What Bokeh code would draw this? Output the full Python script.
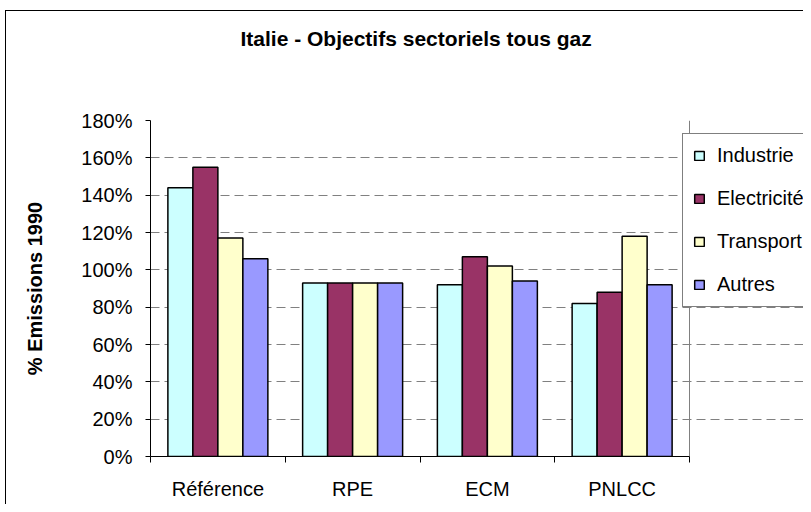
from bokeh.plotting import figure
from bokeh.models import Range1d, FixedTicker, Legend, LegendItem, ColumnDataSource, Grid, Title
from bokeh.embed import file_html
from bokeh.resources import INLINE

categories = ["Référence", "RPE", "ECM", "PNLCC"]
series = ["Industrie", "Electricité", "Transport", "Autres"]
industrie = [144, 93, 92, 82]
electricite = [155, 93, 107, 88]
transport = [117, 93, 102, 118]
autres = [106, 93, 94, 92]
values = [industrie, electricite, transport, autres]
y_ticks = [0, 20, 40, 60, 80, 100, 120, 140, 160, 180]
colors = ["#CCFFFF", "#993366", "#FFFFCC", "#9999FF"]

FONT = "Liberation Sans"
W, H = 803, 504
LEFT, TOP, BOTTOM = 150, 120, 48
PLOT_W = 539  # width of the category area in px
n = len(categories)
x_end = n * (W - LEFT) / PLOT_W

p = figure(width=W, height=H, output_backend="svg", toolbar_location=None,
           x_range=Range1d(0, x_end), y_range=Range1d(0, 180),
           min_border_left=LEFT, min_border_right=0, min_border_top=TOP,
           min_border_bottom=BOTTOM)
p.title_location = None
p.background_fill_color = "white"
p.border_fill_alpha = 0
p.outline_line_color = None
p.styles = {"background": "linear-gradient(#000,#000) 5px 10px / 1px calc(100% - 10px) no-repeat, "
                          "linear-gradient(#000,#000) 5px 10px / calc(100% - 5px) 1px no-repeat, #fff"}

bw = 0.1855
items = []
for k, (name, vals, col) in enumerate(zip(series, values, colors)):
    xs = [i + 0.5 + (k - 1.5) * bw for i in range(n)]
    src = ColumnDataSource(dict(x=xs, top=vals))
    r = p.vbar(x="x", top="top", width=bw, bottom=0, source=src,
               fill_color=col, line_color="black", line_width=1.5)
    items.append(LegendItem(label=name, renderers=[r]))

# titles (spacer first, nearest to the frame)
p.add_layout(Title(text=" ", text_font_size="1px", standoff=63), "above")
p.add_layout(Title(text="Italie - Objectifs sectoriels tous gaz", align="left", offset=90,
                   text_font=FONT, text_font_size="21px", text_font_style="bold",
                   text_color="black", standoff=10), "above")

# y axis
p.yaxis.ticker = FixedTicker(ticks=y_ticks)
p.yaxis.major_label_overrides = {t: f"{t}%" for t in y_ticks}
p.yaxis.major_label_text_font = FONT
p.yaxis.major_label_text_font_size = "20px"
p.yaxis.major_label_text_color = "black"
p.yaxis.major_tick_in = 0
p.yaxis.major_tick_out = 5
p.yaxis.minor_tick_line_color = None
p.yaxis.major_label_standoff = 13
p.yaxis.axis_line_color = "black"
p.yaxis.major_tick_line_color = "black"
p.yaxis.axis_label = "% Emissions 1990"
p.yaxis.axis_label_text_font = FONT
p.yaxis.axis_label_text_font_size = "20px"
p.yaxis.axis_label_text_font_style = "bold"
p.yaxis.axis_label_text_color = "black"
p.yaxis.axis_label_standoff = 32

# x axis
p.xaxis.ticker = FixedTicker(ticks=[i + 0.5 for i in range(n)],
                             minor_ticks=list(range(n + 1)))
p.xaxis.major_label_overrides = {i + 0.5: c for i, c in enumerate(categories)}
p.xaxis.major_label_text_font = FONT
p.xaxis.major_label_text_font_size = "20px"
p.xaxis.major_label_text_color = "black"
p.xaxis.major_tick_line_color = None
p.xaxis.major_tick_in = 0
p.xaxis.major_tick_out = 0
p.xaxis.minor_tick_in = 0
p.xaxis.minor_tick_out = 6
p.xaxis.minor_tick_line_color = "black"
p.xaxis.major_label_standoff = 15
p.xaxis.axis_line_color = "black"
p.xaxis.bounds = (0, n)

# grid
p.xgrid.grid_line_color = None
p.ygrid.ticker = FixedTicker(ticks=y_ticks[1:-1])
p.ygrid.grid_line_color = "#808080"
p.ygrid.grid_line_dash = "9 5"
p.ygrid.grid_line_width = 1
p.ygrid.bounds = (0, n)
# plot-area border (top and right), in gray
p.add_layout(Grid(dimension=1, ticker=FixedTicker(ticks=[y_ticks[-1]]), bounds=(0, n),
                  grid_line_color="#808080", grid_line_width=1))
p.add_layout(Grid(dimension=0, ticker=FixedTicker(ticks=[n]), bounds=(0, y_ticks[-1]),
                  grid_line_color="#808080", grid_line_width=1))

legend = Legend(items=items, location=(532, 149))
legend.background_fill_color = "white"
legend.background_fill_alpha = 1
legend.border_line_color = "black"
legend.border_line_width = 1
legend.label_text_font = FONT
legend.label_text_font_size = "20px"
legend.label_text_color = "black"
legend.label_height = 20
legend.glyph_width = 12
legend.glyph_height = 11
legend.label_standoff = 12
legend.padding = 10
legend.spacing = 20
legend.margin = 0
p.add_layout(legend)

open("out.html", "w").write(file_html(p, INLINE))
